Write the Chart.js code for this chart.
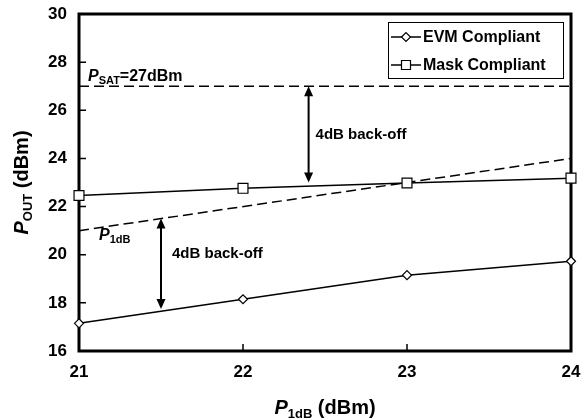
<!DOCTYPE html>
<html>
<head>
<meta charset="utf-8">
<script src="https://cdn.jsdelivr.net/npm/chart.js@4/dist/chart.umd.min.js"></script>
<style>
  html, body { margin: 0; padding: 0; background: #fff; }
  #wrap { width: 586px; height: 419px; position: relative; }
</style>
</head>
<body>
<div id="wrap"><canvas id="c" width="586" height="419"></canvas></div>
<script>
// Input P1dB sweep (dBm)
const p1dbInput = [21, 22, 23, 24];
// Output power meeting each requirement (dBm)
const evmCompliant = [17.15, 18.15, 19.15, 19.73];
const maskCompliant = [22.46, 22.76, 22.98, 23.18];
// Reference levels
const psatSpan = [21, 24];
const psatLevel = [27, 27];
const p1dbSpan = [21, 24];
const p1dbLevel = [21, 24];
// Axis ticks
const xTicks = [21, 22, 23, 24];
const yTicks = [16, 18, 20, 22, 24, 26, 28, 30];
// Back-off arrows: x position, start level, end level (dBm)
const arrowX = [22.4, 21.5];
const arrowFrom = [27, 21.5];
const arrowTo = [23, 17.75];
const seriesNames = ['EVM Compliant', 'Mask Compliant'];

const FONT = '"Liberation Sans", Arial, Helvetica, sans-serif';
const toPts = (xs, ys) => xs.map((x, i) => ({ x: x, y: ys[i] }));

// Draw a run of text pieces (italic / subscript) starting at x, baseline y
function richText(ctx, parts, x, y, align) {
  let total = 0;
  parts.forEach(p => {
    ctx.font = (p.italic ? 'italic ' : '') + 'bold ' + p.size + 'px ' + FONT;
    p.w = ctx.measureText(p.t).width;
    total += p.w;
  });
  let cx = align === 'center' ? x - total / 2 : x;
  ctx.textAlign = 'left';
  ctx.textBaseline = 'alphabetic';
  parts.forEach(p => {
    ctx.font = (p.italic ? 'italic ' : '') + 'bold ' + p.size + 'px ' + FONT;
    ctx.fillText(p.t, cx, y + (p.dy || 0));
    cx += p.w;
  });
}

function arrowHead(ctx, x, y, dir) {
  // dir = -1 points up, +1 points down
  const len = 10, half = 4.5;
  ctx.beginPath();
  ctx.moveTo(x, y);
  ctx.lineTo(x - half, y - dir * len);
  ctx.lineTo(x + half, y - dir * len);
  ctx.closePath();
  ctx.fill();
}

const framePlugin = {
  id: 'frame',
  beforeDatasetsDraw(chart) {
    const { ctx, chartArea: a, scales } = chart;
    ctx.save();
    ctx.strokeStyle = '#000';
    // inward tick marks
    ctx.lineWidth = 1.5;
    ctx.beginPath();
    yTicks.forEach(v => {
      const y = scales.y.getPixelForValue(v);
      ctx.moveTo(a.left, y); ctx.lineTo(a.left + 7, y);
    });
    xTicks.forEach(v => {
      const x = scales.x.getPixelForValue(v);
      ctx.moveTo(x, a.bottom); ctx.lineTo(x, a.bottom - 7);
    });
    ctx.stroke();
    // plot frame
    ctx.lineWidth = 3;
    ctx.strokeRect(a.left, a.top, a.right - a.left, a.bottom - a.top);
    ctx.restore();
  },
  afterDatasetsDraw(chart) {
    const { ctx, chartArea: a, scales } = chart;
    const xs = scales.x, ys = scales.y;
    ctx.save();
    ctx.fillStyle = '#000';
    ctx.strokeStyle = '#000';

    // back-off arrows
    ctx.lineWidth = 2;
    arrowX.forEach((xv, i) => {
      const x = xs.getPixelForValue(xv);
      const y1 = ys.getPixelForValue(arrowFrom[i]);
      const y2 = ys.getPixelForValue(arrowTo[i]);
      ctx.beginPath();
      ctx.moveTo(x, y1 + 8); ctx.lineTo(x, y2 - 8);
      ctx.stroke();
      arrowHead(ctx, x, y1, -1);
      arrowHead(ctx, x, y2, 1);
    });

    // annotations
    const x0 = xs.getPixelForValue(21);
    richText(ctx, [
      { t: 'P', size: 16, italic: true },
      { t: 'SAT', size: 11, dy: 3 },
      { t: '=27dBm', size: 16 }
    ], x0 + 9, ys.getPixelForValue(psatLevel[0]) - 5);
    richText(ctx, [
      { t: 'P', size: 16, italic: true },
      { t: '1dB', size: 11, dy: 3 }
    ], x0 + 20, ys.getPixelForValue(20.6));
    ctx.font = 'bold 15px ' + FONT;
    ctx.textAlign = 'left';
    ctx.textBaseline = 'alphabetic';
    ctx.fillText('4dB back-off', xs.getPixelForValue(arrowX[0]) + 7, ys.getPixelForValue(24.8));
    ctx.fillText('4dB back-off', xs.getPixelForValue(arrowX[1]) + 11, ys.getPixelForValue(19.85));

    // legend box
    const lx = 388, ly = 22, lw = 175, lh = 56;
    ctx.fillStyle = '#fff';
    ctx.fillRect(lx, ly, lw, lh);
    ctx.lineWidth = 1;
    ctx.strokeStyle = '#000';
    ctx.strokeRect(lx + 0.5, ly + 0.5, lw, lh);
    const rows = [37, 65];
    rows.forEach((ry, i) => {
      ctx.lineWidth = 1.5;
      ctx.strokeStyle = '#000';
      ctx.beginPath();
      ctx.moveTo(lx + 3, ry); ctx.lineTo(lx + 33, ry);
      ctx.stroke();
      const mx = lx + 18;
      ctx.fillStyle = '#fff';
      ctx.lineWidth = 1.2;
      ctx.beginPath();
      if (i === 0) {
        ctx.moveTo(mx - 4.5, ry); ctx.lineTo(mx, ry - 4.5);
        ctx.lineTo(mx + 4.5, ry); ctx.lineTo(mx, ry + 4.5);
        ctx.closePath();
      } else {
        ctx.rect(mx - 4.5, ry - 4.5, 9, 9);
      }
      ctx.fill(); ctx.stroke();
      ctx.fillStyle = '#000';
      ctx.font = 'bold 16px ' + FONT;
      ctx.textAlign = 'left';
      ctx.textBaseline = 'middle';
      ctx.fillText(seriesNames[i], lx + 35, ry + 1);
    });

    // axis titles
    ctx.fillStyle = '#000';
    richText(ctx, [
      { t: 'P', size: 20, italic: true },
      { t: '1dB', size: 13, dy: 4 },
      { t: ' (dBm)', size: 20 }
    ], (a.left + a.right) / 2, 414, 'center');
    ctx.translate(28, (a.top + a.bottom) / 2);
    ctx.rotate(-Math.PI / 2);
    richText(ctx, [
      { t: 'P', size: 20, italic: true },
      { t: 'OUT', size: 13, dy: 4 },
      { t: ' (dBm)', size: 20 }
    ], 0, 0, 'center');
    ctx.restore();
  }
};

const lineStyle = { borderColor: '#000', borderWidth: 1.5, tension: 0, clip: false };

new Chart(document.getElementById('c'), {
  type: 'line',
  data: {
    datasets: [
      Object.assign({
        label: seriesNames[0],
        data: toPts(p1dbInput, evmCompliant),
        pointStyle: 'rectRot', pointRadius: 4.5,
        pointBackgroundColor: '#fff', pointBorderColor: '#000', pointBorderWidth: 1.2
      }, lineStyle),
      Object.assign({
        label: seriesNames[1],
        data: toPts(p1dbInput, maskCompliant),
        pointStyle: 'rect', pointRadius: 7,
        pointBackgroundColor: '#fff', pointBorderColor: '#000', pointBorderWidth: 1.2
      }, lineStyle),
      Object.assign({
        label: 'PSAT',
        data: toPts(psatSpan, psatLevel),
        pointRadius: 0, borderDash: [10, 5]
      }, lineStyle),
      Object.assign({
        label: 'P1dB',
        data: toPts(p1dbSpan, p1dbLevel),
        pointRadius: 0, borderDash: [10, 5]
      }, lineStyle)
    ]
  },
  options: {
    responsive: false,
    animation: false,
    devicePixelRatio: 1,
    layout: { padding: { left: 0, right: 15, top: 14, bottom: 0 } },
    plugins: { legend: { display: false }, tooltip: { enabled: false } },
    scales: {
      x: {
        type: 'linear', min: 21, max: 24,
        afterBuildTicks: s => { s.ticks = xTicks.map(v => ({ value: v })); },
        afterFit: s => { s.height = 68; s.paddingLeft = 0; s.paddingRight = 0; },
        grid: { display: false, drawTicks: false },
        border: { display: false },
        ticks: { color: '#000', padding: 11, font: { family: FONT, size: 17, weight: 'bold' } }
      },
      y: {
        type: 'linear', min: 16, max: 30,
        afterBuildTicks: s => { s.ticks = yTicks.map(v => ({ value: v })); },
        afterFit: s => { s.width = 79; s.paddingTop = 0; s.paddingBottom = 0; },
        grid: { display: false, drawTicks: false },
        border: { display: false },
        ticks: { color: '#000', padding: 12, font: { family: FONT, size: 17, weight: 'bold' } }
      }
    }
  },
  plugins: [framePlugin]
});
</script>
</body>
</html>
